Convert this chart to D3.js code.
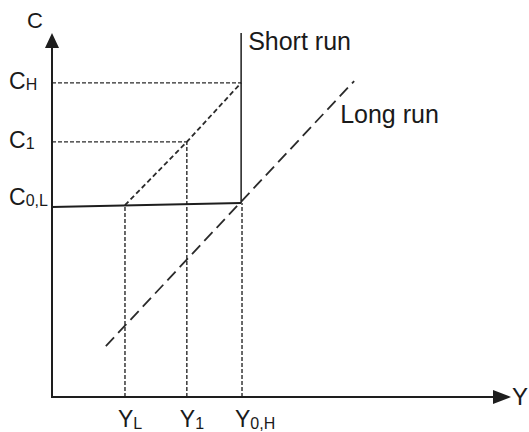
<!DOCTYPE html>
<html>
<head>
<meta charset="utf-8">
<script src="https://cdn.jsdelivr.net/npm/d3@7"></script>
<style>
  body { margin: 0; background: #fff; }
  text { font-family: "Liberation Sans", Arial, sans-serif; fill: #1a1a1a; }
</style>
</head>
<body>
<script>
// values in chart units (Y along x, C along y), both 0..100
var yLevels = [16.4, 30.3, 42.7];          // Y_L, Y_1, Y_0,H
var yLabels = [["Y", "L"], ["Y", "1"], ["Y", "0,H"]];
var cLevels = [86.3, 70.1, 52.5];          // C_H, C_1, C_0,L
var cLabels = [["C", "H"], ["C", "1"], ["C", "0,L"]];
var shortRunX = 42.5;
var shortRunTop = 100;
var baseLine = [[0, 52.2], [42.5, 53.3]];               // solid C0,L line
var shortRunPath = [[16.4, 52.7], [30.3, 70.1], [42.5, 86.3]];
var longRunPath = [[12.1, 14.0], [67.9, 86.8]];

var width = 529, height = 432;
var margin = { top: 33, right: 32, bottom: 35, left: 52 };

var svg = d3.select("body").append("svg")
    .attr("width", width)
    .attr("height", height);

var x = d3.scaleLinear().domain([0, 100]).range([margin.left, width - margin.right]);
var y = d3.scaleLinear().domain([0, 100]).range([height - margin.bottom, margin.top]);

var line = d3.line()
    .x(function (d) { return x(d[0]); })
    .y(function (d) { return y(d[1]); });

var ink = "#1e1e1e";

// guide lines (fine dashes)
svg.append("g").selectAll("line.vguide")
    .data(yLevels)
    .enter().append("line")
    .attr("class", "vguide")
    .attr("x1", function (d) { return x(d); })
    .attr("x2", function (d) { return x(d); })
    .attr("y1", y(0))
    .attr("y2", function (d, i) { return y(i == 0 ? 52.6 : (i == 1 ? 70.1 : 53.3)); })
    .attr("stroke", "#2a2a2a")
    .attr("stroke-width", 1.4)
    .attr("stroke-dasharray", "4,2");

svg.append("g").selectAll("line.hguide")
    .data(cLevels.slice(0, 2))
    .enter().append("line")
    .attr("class", "hguide")
    .attr("x1", x(0))
    .attr("x2", function (d, i) { return x(i == 0 ? shortRunX : 30.3); })
    .attr("y1", function (d) { return y(d); })
    .attr("y2", function (d) { return y(d); })
    .attr("stroke", "#2a2a2a")
    .attr("stroke-width", 1.4)
    .attr("stroke-dasharray", "4,2");

// short run adjustment path
svg.append("path")
    .attr("d", line(shortRunPath))
    .attr("fill", "none")
    .attr("stroke", "#2a2a2a")
    .attr("stroke-width", 1.8)
    .attr("stroke-dasharray", "5,3");

// long run line
svg.append("path")
    .attr("d", line(longRunPath))
    .attr("fill", "none")
    .attr("stroke", "#2a2a2a")
    .attr("stroke-width", 1.8)
    .attr("stroke-dasharray", "12,6");

// short run vertical + base line
svg.append("line")
    .attr("x1", x(shortRunX)).attr("x2", x(shortRunX))
    .attr("y1", y(baseLine[1][1])).attr("y2", y(shortRunTop))
    .attr("stroke", ink)
    .attr("stroke-width", 1.5);

svg.append("path")
    .attr("d", line(baseLine))
    .attr("fill", "none")
    .attr("stroke", ink)
    .attr("stroke-width", 2);

// axes with arrow heads
svg.append("line")
    .attr("x1", x(0)).attr("x2", x(0))
    .attr("y1", y(0)).attr("y2", y(100) + 12)
    .attr("stroke", ink).attr("stroke-width", 2);
svg.append("path")
    .attr("d", "M" + x(0) + "," + y(100) + "l-7,15h14z")
    .attr("fill", ink);

svg.append("line")
    .attr("x1", x(0) - 1).attr("x2", x(100))
    .attr("y1", y(0)).attr("y2", y(0))
    .attr("stroke", ink).attr("stroke-width", 2);
svg.append("path")
    .attr("d", "M" + (x(100) + 14) + "," + y(0) + "l-18,-7v14z")
    .attr("fill", ink);

// axis titles
svg.append("text")
    .attr("x", x(0) - 25).attr("y", y(100) - 5)
    .attr("font-size", 22)
    .text("C");
svg.append("text")
    .attr("x", x(100) + 15).attr("y", y(0) + 8)
    .attr("font-size", 24)
    .text("Y");

// tick labels with subscripts
function subLabel(sel) {
    sel.append("tspan").attr("font-size", 23).text(function (d) { return d[0]; });
    sel.append("tspan").attr("font-size", 16).attr("dy", 1.5).text(function (d) { return d[1]; });
}

svg.append("g").selectAll("text")
    .data(cLabels)
    .enter().append("text")
    .attr("x", 9)
    .attr("y", function (d, i) { return y(cLevels[i]) + (i == 2 ? -1 : 6); })
    .call(subLabel);

svg.append("g").selectAll("text")
    .data(yLabels)
    .enter().append("text")
    .attr("x", function (d, i) { return x(yLevels[i]) - 7; })
    .attr("y", y(0) + 30)
    .call(subLabel);

// curve labels
svg.append("text")
    .attr("x", x(shortRunX) + 7).attr("y", y(shortRunTop) + 17)
    .attr("font-size", 25)
    .text("Short run");
svg.append("text")
    .attr("x", x(longRunPath[1][0]) - 14).attr("y", y(longRunPath[1][1]) + 42)
    .attr("font-size", 25)
    .text("Long run");
</script>
</body>
</html>
